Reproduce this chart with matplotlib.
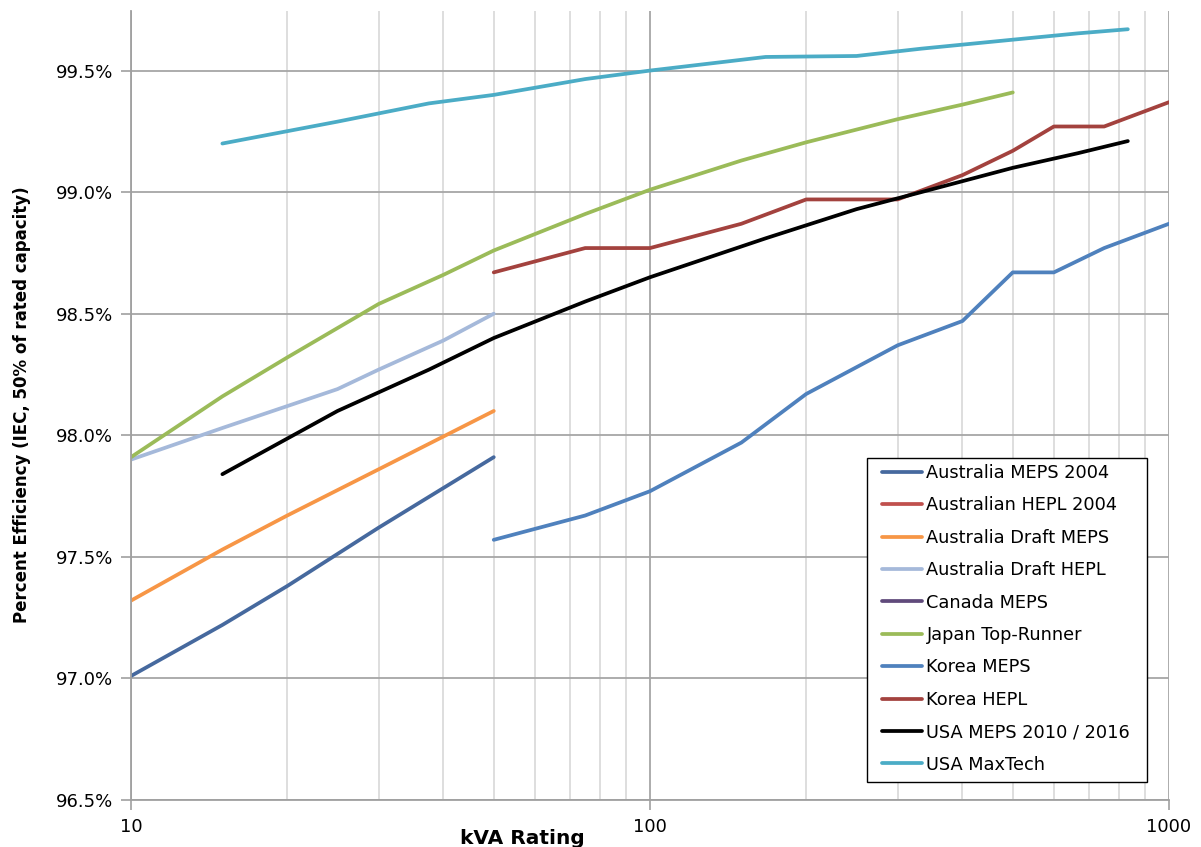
import matplotlib
matplotlib.use('Agg')
import matplotlib.pyplot as plt
from matplotlib.patches import Rectangle
from matplotlib.ticker import FixedLocator, FuncFormatter, NullFormatter

# series names, in legend order
labels = ['Australia MEPS 2004', 'Australian HEPL 2004', 'Australia Draft MEPS',
          'Australia Draft HEPL', 'Canada MEPS', 'Japan Top-Runner', 'Korea MEPS',
          'Korea HEPL', 'USA MEPS 2010 / 2016', 'USA MaxTech']
colors = ['#46699E', '#C0504D', '#F79646', '#A5B9DA', '#604A7B', '#9BBB59',
          '#4F81BD', '#A3423E', '#000000', '#4BACC6']

# kVA ratings and efficiencies (%)
aus_meps_kva = [10, 15, 20, 30, 50]
aus_meps_eff = [97.01, 97.22, 97.38, 97.62, 97.91]

aus_hepl_kva = []   # hidden under another line in the original
aus_hepl_eff = []

aus_draft_meps_kva = [10, 15, 20, 30, 50]
aus_draft_meps_eff = [97.32, 97.53, 97.67, 97.86, 98.10]

aus_draft_hepl_kva = [10, 15, 20, 25, 30, 40, 50]
aus_draft_hepl_eff = [97.90, 98.03, 98.12, 98.19, 98.27, 98.39, 98.50]

canada_meps_kva = []   # not visible in the original
canada_meps_eff = []

japan_kva = [10, 15, 20, 30, 40, 50, 75, 100, 150, 200, 300, 400, 500]
japan_eff = [97.91, 98.16, 98.32, 98.54, 98.66, 98.76, 98.91, 99.01, 99.13, 99.205, 99.30, 99.36, 99.41]

korea_meps_kva = [50, 75, 100, 150, 200, 300, 400, 500, 600, 750, 1000]
korea_meps_eff = [97.57, 97.67, 97.77, 97.97, 98.17, 98.37, 98.47, 98.67, 98.67, 98.77, 98.87]

korea_hepl_kva = [50, 75, 100, 150, 200, 300, 400, 500, 600, 750, 1000]
korea_hepl_eff = [98.67, 98.77, 98.77, 98.87, 98.97, 98.97, 99.07, 99.17, 99.27, 99.27, 99.37]

usa_meps_kva = [15, 25, 37.5, 50, 75, 100, 167, 250, 333, 500, 667, 833]
usa_meps_eff = [97.84, 98.10, 98.27, 98.40, 98.55, 98.65, 98.81, 98.93, 99.00, 99.10, 99.16, 99.21]

usa_max_kva = [15, 25, 37.5, 50, 75, 100, 167, 250, 333, 500, 667, 833]
usa_max_eff = [99.20, 99.29, 99.365, 99.40, 99.465, 99.50, 99.556, 99.56, 99.59, 99.627, 99.653, 99.67]

xs = [aus_meps_kva, aus_hepl_kva, aus_draft_meps_kva, aus_draft_hepl_kva, canada_meps_kva,
      japan_kva, korea_meps_kva, korea_hepl_kva, usa_meps_kva, usa_max_kva]
ys = [aus_meps_eff, aus_hepl_eff, aus_draft_meps_eff, aus_draft_hepl_eff, canada_meps_eff,
      japan_eff, korea_meps_eff, korea_hepl_eff, usa_meps_eff, usa_max_eff]

y_ticks = [96.5, 97.0, 97.5, 98.0, 98.5, 99.0, 99.5]
x_ticks = [10, 100, 1000]

W, H = 1201, 847
fig = plt.figure(figsize=(W / 100, H / 100), dpi=100)
ax = fig.add_axes([131 / W, 1 - 800 / H, 1038 / W, 789 / H])

for x, y, c, lab in zip(xs, ys, colors, labels):
    ax.plot(x, y, color=c, lw=2.7, label=lab, solid_capstyle='round', solid_joinstyle='round')

ax.set_xscale('log')
ax.set_xlim(10, 1000)
ax.set_ylim(96.5, 99.745)

ax.set_yticks(y_ticks)
ax.yaxis.set_major_formatter(FuncFormatter(lambda v, p: f'{v:.1f}%'))
ax.xaxis.set_major_locator(FixedLocator(x_ticks))
ax.xaxis.set_major_formatter(FuncFormatter(lambda v, p: f'{v:g}'))
minor = [m * d for d in (10, 100) for m in range(2, 10)]
ax.xaxis.set_minor_locator(FixedLocator(minor))
ax.xaxis.set_minor_formatter(NullFormatter())
ax.tick_params(which='minor', length=0)
ax.tick_params(which='major', direction='out', length=7, color='#A0A0A0', width=1.2,
               labelsize=13, pad=6)

ax.grid(True, which='minor', axis='x', color='#D4D4D4', lw=1.1)
ax.grid(True, which='major', axis='x', color='#A6A6A6', lw=1.3)
ax.grid(True, which='major', axis='y', color='#A6A6A6', lw=1.3)
ax.set_axisbelow(True)
for s in ('top', 'right'):
    ax.spines[s].set_visible(False)
for s in ('left', 'bottom'):
    ax.spines[s].set_color('#A0A0A0')
    ax.spines[s].set_linewidth(1.3)

fig.text(22 / W, 1 - 405 / H, 'Percent Efficiency (IEC, 50% of rated capacity)',
         rotation=90, ha='center', va='center', fontsize=12, fontweight='bold')
fig.text(522 / W, 3 / H, 'kVA Rating', ha='center', va='baseline',
         fontsize=14.5, fontweight='bold')

# legend box drawn separately so its padding can follow the original
box = Rectangle((867 / W, 1 - 782 / H), 280 / W, 324 / H, transform=fig.transFigure,
                facecolor='white', edgecolor='black', lw=1.0, zorder=4, clip_on=False)
ax.add_patch(box)
leg = ax.legend(loc='upper left', bbox_to_anchor=(882 / W, 1 - 464 / H),
                bbox_transform=fig.transFigure, fontsize=12.8, frameon=False,
                handlelength=2.25, handletextpad=0.25, labelspacing=0.81,
                borderpad=0, borderaxespad=0)
leg.set_zorder(5)

plt.savefig('out.png', dpi=100)
